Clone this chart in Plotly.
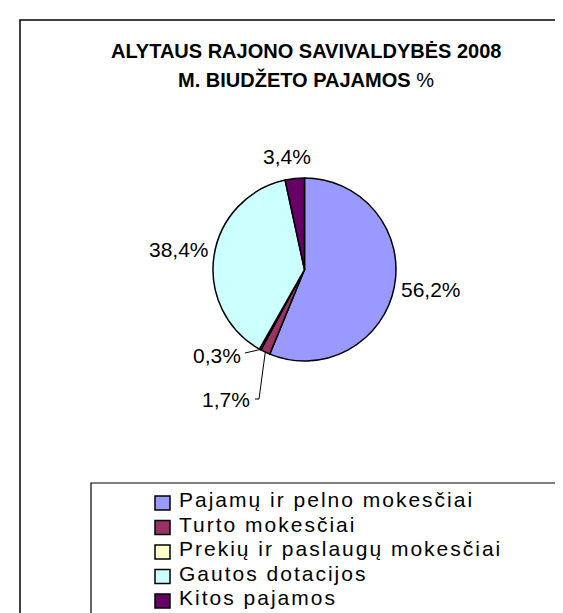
import math
import plotly.graph_objects as go

# ---- data ----
categories = [
    "Pajamų ir pelno mokesčiai",
    "Turto mokesčiai",
    "Prekių ir paslaugų mokesčiai",
    "Gautos dotacijos",
    "Kitos pajamos",
]
values = [56.2, 1.7, 0.3, 38.4, 3.4]
colors = ["#9999FF", "#993366", "#FFFFCC", "#CCFFFF", "#660066"]
title_line1 = "ALYTAUS RAJONO SAVIVALDYBĖS 2008"
title_line2 = "M. BIUDŽETO PAJAMOS"

# ---- layout helpers (pixel -> paper) ----
W, H = 563, 613
def px(x):
    return x / W
def py(y):
    return 1 - y / H

FONT = "Liberation Sans, Arial"
# pie geometry (pixels)
CX, CY, R = 296.5, 261.5, 91.5

fig = go.Figure()
fig.add_trace(go.Pie(
    labels=categories,
    values=values,
    sort=False,
    direction="clockwise",
    rotation=0,
    marker=dict(colors=colors, line=dict(color="black", width=1.5)),
    textinfo="none",
    hoverinfo="label+percent",
    showlegend=False,
    domain=dict(x=[px(CX - R), px(CX + R)], y=[py(CY + R), py(CY - R)]),
))

annotations = []
shapes = []

# outer chart border (left/top visible, rest clipped)
shapes.append(dict(type="rect", xref="paper", yref="paper",
                   x0=px(12), x1=px(620), y0=py(700), y1=py(12),
                   line=dict(color="black", width=1.5), layer="below"))

# title
annotations.append(dict(text="<b>%s</b>" % title_line1, x=px(297.5), y=py(42.5),
                        xref="paper", yref="paper", showarrow=False,
                        xanchor="center", yanchor="middle",
                        font=dict(family=FONT, size=20, color="black")))
annotations.append(dict(text="<b>%s</b> %%" % title_line2, x=px(297.5), y=py(71.5),
                        xref="paper", yref="paper", showarrow=False,
                        xanchor="center", yanchor="middle",
                        font=dict(family=FONT, size=20, color="black")))

# data labels (placed as in the reference)
label_pos = [  # (x, y, xanchor) in pixels
    (391, 281.5, "left"),
    (244, 391, "right"),
    (235, 347, "right"),
    (203, 242, "right"),
    (279, 148, "center"),
]
cum = 0.0
total = sum(values)
for i, v in enumerate(values):
    mid = (cum + v / 2) / total * 2 * math.pi
    cum += v
    ex, ey = CX + R * math.sin(mid), CY - R * math.cos(mid)
    lx, ly, xa = label_pos[i]
    annotations.append(dict(text=("%.1f" % v).replace(".", ",") + "%",
                            x=px(lx), y=py(ly), xref="paper", yref="paper",
                            showarrow=False, xanchor=xa, yanchor="middle",
                            font=dict(family=FONT, size=21, color="black")))
    if i == 1:  # leader line for 1,7%
        shapes.append(dict(type="path", xref="paper", yref="paper",
                           path="M %f %f L %f %f L %f %f" % (px(lx + 3), py(ly), px(lx + 7), py(ly), px(ex), py(ey)),
                           line=dict(color="black", width=1)))
    if i == 2:  # leader line for 0,3%
        shapes.append(dict(type="path", xref="paper", yref="paper",
                           path="M %f %f L %f %f" % (px(lx + 2), py(ly - 2), px(ex), py(ey)),
                           line=dict(color="black", width=1)))

# legend box
shapes.append(dict(type="rect", xref="paper", yref="paper",
                   x0=px(83), x1=px(557), y0=py(700), y1=py(475),
                   line=dict(color="black", width=1.2), fillcolor="white", layer="below"))
row0, step = 491.5, 24.5
for i, col in enumerate(colors):
    yc = row0 + i * step
    shapes.append(dict(type="rect", xref="paper", yref="paper",
                       x0=px(147), x1=px(162), y0=py(yc + 10.5), y1=py(yc - 3.5),
                       fillcolor=col, line=dict(color="black", width=1.5)))
legend_text = "<br>".join(
    '<span style="font-size:21px;letter-spacing:2px">%s</span>' % lab for lab in categories)
annotations.append(dict(text=legend_text, x=px(169), y=py(row0 + 2 * step),
                        xref="paper", yref="paper", showarrow=False, align="left",
                        xanchor="left", yanchor="middle",
                        font=dict(family=FONT, size=step / 1.3, color="black")))

fig.update_layout(
    width=W, height=H,
    margin=dict(l=0, r=0, t=0, b=0),
    paper_bgcolor="white", plot_bgcolor="white",
    annotations=annotations, shapes=shapes,
    showlegend=False,
)
fig.write_html("out.html")
